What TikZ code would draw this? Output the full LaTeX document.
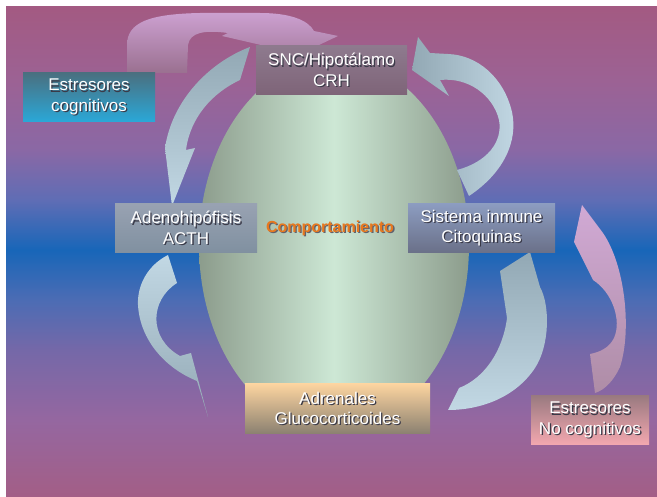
\documentclass[tikz,border=0pt]{standalone}
\usepackage{fontspec}
\setmainfont{Liberation Sans}
\definecolor{bg0}{HTML}{A35E86}
\definecolor{bg1}{HTML}{9567A0}
\definecolor{bg2}{HTML}{7568A8}
\definecolor{bg3}{HTML}{4C6CB4}
\definecolor{bg4}{HTML}{1866B8}
\definecolor{bg5}{HTML}{5F6DB5}
\definecolor{bg6}{HTML}{8A68A5}
\definecolor{bg7}{HTML}{9C6294}
\definecolor{bg8}{HTML}{A35A82}
\pgfdeclareverticalshading{bgshade}{100bp}{color(0bp)=(bg0); color(25bp)=(bg0); color(32.85bp)=(bg1); color(40bp)=(bg2); color(45.1bp)=(bg3); color(50.2bp)=(bg4); color(55.3bp)=(bg5); color(60.4bp)=(bg6); color(67.5bp)=(bg7); color(75bp)=(bg8); color(100bp)=(bg8)}
\definecolor{eggE}{HTML}{8C9C8C}
\definecolor{eggM}{HTML}{CDE8D5}
\definecolor{pkL}{HTML}{CCA0D0}
\definecolor{pkD}{HTML}{9A7090}
\definecolor{blL}{HTML}{C2D8E4}
\definecolor{blD}{HTML}{92A8B4}
\definecolor{shadowc}{HTML}{3A3A48}
\definecolor{orangec}{HTML}{E8781E}
% box colours
\definecolor{sncT}{HTML}{8E7A8E}
\definecolor{sncM}{HTML}{CDA0CF}
\definecolor{sncB}{HTML}{7E6478}
\definecolor{ecT}{HTML}{4A7080}
\definecolor{ecB}{HTML}{2AA8D8}
\definecolor{adT}{HTML}{98A2B2}
\definecolor{adM}{HTML}{D0ECFA}
\definecolor{adB}{HTML}{8090A0}
\definecolor{siT}{HTML}{8C9CC0}
\definecolor{siM}{HTML}{A0C0EE}
\definecolor{siB}{HTML}{6A7088}
\definecolor{arT}{HTML}{FCD4A0}
\definecolor{arB}{HTML}{8A8070}
\definecolor{enT}{HTML}{9A7A80}
\definecolor{enB}{HTML}{F4A8B0}
\newcommand{\shd}[1]{\leavevmode\rlap{\kern1.3pt\raisebox{-1.3pt}{\textcolor{shadowc}{#1}}}\textcolor{white}{#1}}
\newcommand{\shdo}[1]{\leavevmode\rlap{\kern1.3pt\raisebox{-1.3pt}{\textcolor{shadowc!80}{#1}}}\textcolor{orangec}{#1}}
\tikzset{
  boxn/.style={rectangle, inner sep=0pt, align=center, font=\fontsize{17}{20.4}\selectfont},
}
\begin{document}
\begin{tikzpicture}[x=1pt,y=-1pt]
\useasboundingbox (0,0) rectangle (657,497);
\fill[white] (0,0) rectangle (657,497);
\shade[shading=bgshade] (6,7) rectangle (657,497);
% egg
\shade[left color=eggE, right color=eggE, middle color=eggM] (334,245) ellipse [x radius=135, y radius=186];
% pink top arrow
\shade[top color=pkL, bottom color=pkD] (127,73) -- (127,45) .. controls (127,22) and (150,14) .. (200,13) -- (260,13) .. controls (290,13) and (308,20) .. (314,31) -- (338,36) -- (300,54) -- (222,36) -- (228,33) .. controls (205,30) and (190,32) .. (188,45) -- (187,73) -- cycle;
% left top arrow
\shade[top color=blD, bottom color=blL] (250,47) .. controls (210,62) and (172,100) .. (165,148) -- (172,206) -- (195,148) -- (186,150) .. controls (190,118) and (212,93) .. (240,80) -- cycle;
% right top arrow
\shade[left color=blD, right color=blL] (469,196) .. controls (505,172) and (518,140) .. (512,112) .. controls (504,78) and (478,55) .. (448,54) -- (430,53) -- (418,37) -- (412,70) -- (449,96) -- (440,80) .. controls (468,77) and (493,95) .. (499,120) .. controls (503,142) and (487,162) .. (457,170) -- cycle;
% left bottom arrow
\shade[top color=blL, bottom color=blD] (168,255) -- (177,283) .. controls (150,300) and (148,338) .. (180,356) -- (191,353) -- (208,417) -- (197,381) .. controls (165,368) and (140,340) .. (138,305) .. controls (137,285) and (148,265) .. (168,255) -- cycle;
% right bottom arrow
\shade[top color=blD, bottom color=blL] (448,410) .. controls (480,410) and (515,398) .. (535,368) .. controls (550,345) and (550,305) .. (540,287) -- (530,252) -- (500,271) -- (507,318) .. controls (503,350) and (485,378) .. (459,388) -- cycle;
% pink right arrow
\shade[top color=pkL!90!white, bottom color=pkD!80!white] (582,205) -- (603,233) .. controls (625,265) and (632,330) .. (620,367) .. controls (614,380) and (605,390) .. (595,393) -- (590,354) .. controls (600,352) and (609,348) .. (614,338) .. controls (622,320) and (612,292) .. (593,280) -- (574,242) -- cycle;
% boxes
\node[boxn, minimum width=151pt, minimum height=49pt, top color=sncT, middle color=sncM, bottom color=sncB] (snc) at (331.5,70.5) {\shd{SNC/Hipotálamo}\\\shd{CRH}};
\node[boxn, minimum width=132pt, minimum height=49pt, top color=ecT, bottom color=ecB] (ecog) at (89,97.5) {\shd{Estresores}\\\shd{cognitivos}};
\node[boxn, minimum width=142pt, minimum height=49pt, top color=adT, middle color=adM, bottom color=adB] (adeno) at (186,228.5) {\shd{Adenohipófisis}\\\shd{ACTH}};
\node[boxn, minimum width=147pt, minimum height=49pt, top color=siT, middle color=siM, bottom color=siB] (sist) at (481.5,228.5) {\shd{Sistema inmune}\\\shd{Citoquinas}};
\node[boxn, minimum width=185pt, minimum height=50pt, top color=arT, bottom color=arB] (adren) at (337.5,409) {\shd{Adrenales}\\\shd{Glucocorticoides}};
\node[boxn, minimum width=118pt, minimum height=49pt, top color=enT, bottom color=enB] (encog) at (590,420.5) {\shd{Estresores}\\\shd{No cognitivos}};
\node[inner sep=0pt, font=\fontsize{16}{19}\selectfont\bfseries] (comp) at (330,229) {\shdo{Comportamiento}};
\end{tikzpicture}
\end{document}
